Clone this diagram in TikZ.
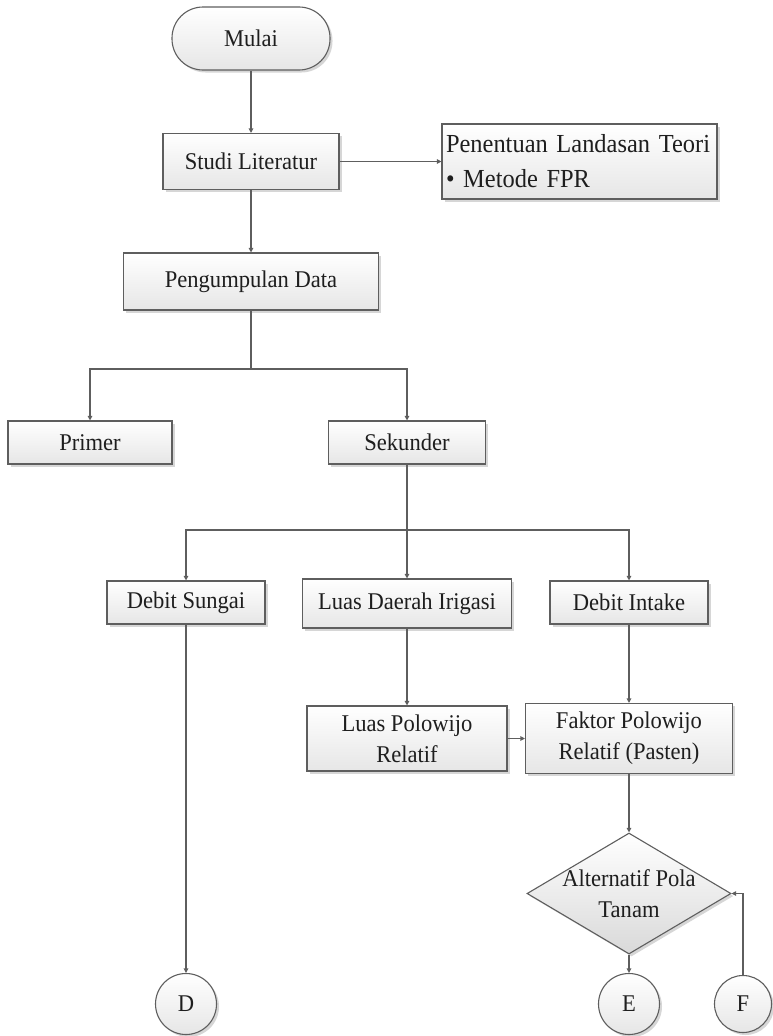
\documentclass[tikz,border=0pt]{standalone}
\usepackage{fontspec}
\setmainfont{Liberation Serif}[FakeStretch=0.94]
\usetikzlibrary{arrows.meta,positioning,shapes.geometric,shadows}
\definecolor{fcline}{HTML}{5E5E5E}
\definecolor{fctext}{HTML}{1E1E1E}
\definecolor{fcfill}{HTML}{E6E6E6}
\definecolor{fcdiam}{HTML}{D9D9D9}
\definecolor{fcshadow}{HTML}{D6D6D6}
\tikzset{
  box/.style={draw=fcline, line width=1.1pt, top color=white, bottom color=fcfill,
    text=fctext, align=center, inner sep=4pt,
    drop shadow={shadow xshift=2.5pt, shadow yshift=-2.5pt, fill=fcshadow, opacity=1}},
  terminal/.style={box, rounded corners=31pt},
  decision/.style={box, diamond, aspect=1.69, inner sep=0pt, bottom color=fcdiam},
  connector/.style={box, circle, inner sep=0pt, minimum size=61pt},
  link/.style={fcline, line width=1.1pt},
  arr/.style={link, -{Triangle[length=4.5pt, width=4.5pt]}},
}

\begin{document}
\begin{tikzpicture}[x=1pt, y=-1pt, font=\fontsize{24}{31}\selectfont]
    \useasboundingbox (0,0) rectangle (773,1036);
    % start and literature
    \node[terminal, minimum width=158pt, minimum height=63pt] (mulai) at (251,38.5) {Mulai};
    \node[box, minimum width=176pt, minimum height=56pt] (studi) at (251,161.5) {Studi Literatur};
    \node[box, minimum width=275pt, minimum height=75pt, text width=267pt, align=left,
      inner xsep=4pt, font=\fontsize{26}{35}\selectfont] (teori) at (579.5,161.5)
      {Penentuan Landasan Teori\\\textbullet{} Metode FPR};
    \node[box, minimum width=255pt, minimum height=57pt] (data) at (251,281.5) {Pengumpulan Data};
    % data types
    \node[box, minimum width=164pt, minimum height=43pt] (primer) at (90,442.5) {Primer};
    \node[box, minimum width=157pt, minimum height=43pt] (sekunder) at (407,442.5) {Sekunder};
    \node[box, minimum width=158pt, minimum height=43pt] (sungai) at (186,602.5) {Debit Sungai};
    \node[box, minimum width=209pt, minimum height=49pt] (irigasi) at (407,603.5) {Luas Daerah Irigasi};
    \node[box, minimum width=158pt, minimum height=43pt] (intake) at (629,602.5) {Debit Intake};
    \node[box, minimum width=200pt, minimum height=65pt] (lpr) at (407,738.5) {Luas Polowijo\\Relatif};
    \node[box, minimum width=207pt, minimum height=70pt] (fpr) at (629,738.5) {Faktor Polowijo\\Relatif (Pasten)};
    \node[decision, minimum width=204pt, minimum height=121pt,
      label={[align=center, text=fctext]center:Alternatif Pola\\Tanam}] (pola) at (629,893.5) {};
    % off-page connectors
    \node[connector] (d) at (186,1004) {D};
    \node[connector] (e) at (629,1004) {E};
    \node[connector, minimum size=57pt] (f) at (743,1004) {F};
    \coordinate (cabang1) at (251,369);
    \coordinate (cabang2) at (407,530);

    \draw[arr] (mulai) -- (studi);
    \draw[arr] (studi.east) -- (studi.east -| teori.west);
    \draw[arr] (studi) -- (data);
    \draw[link] (data) -- (cabang1);
    \draw[arr] (cabang1) -| (primer);
    \draw[arr] (cabang1) -| (sekunder);
    \draw[link] (sekunder) -- (cabang2);
    \foreach \n in {sungai,irigasi,intake} {
      \draw[arr] (cabang2) -| (\n);
    }
    \draw[arr] (sungai) -- (d);
    \draw[arr] (irigasi) -- (lpr);
    \draw[arr] (intake) -- (fpr);
    \draw[arr] (lpr) -- (fpr);
    \draw[arr] (fpr) -- (pola);
    \draw[arr] (pola) -- (e);
    \draw[arr] (f) |- (pola.east);
  \end{tikzpicture}
\end{document}
